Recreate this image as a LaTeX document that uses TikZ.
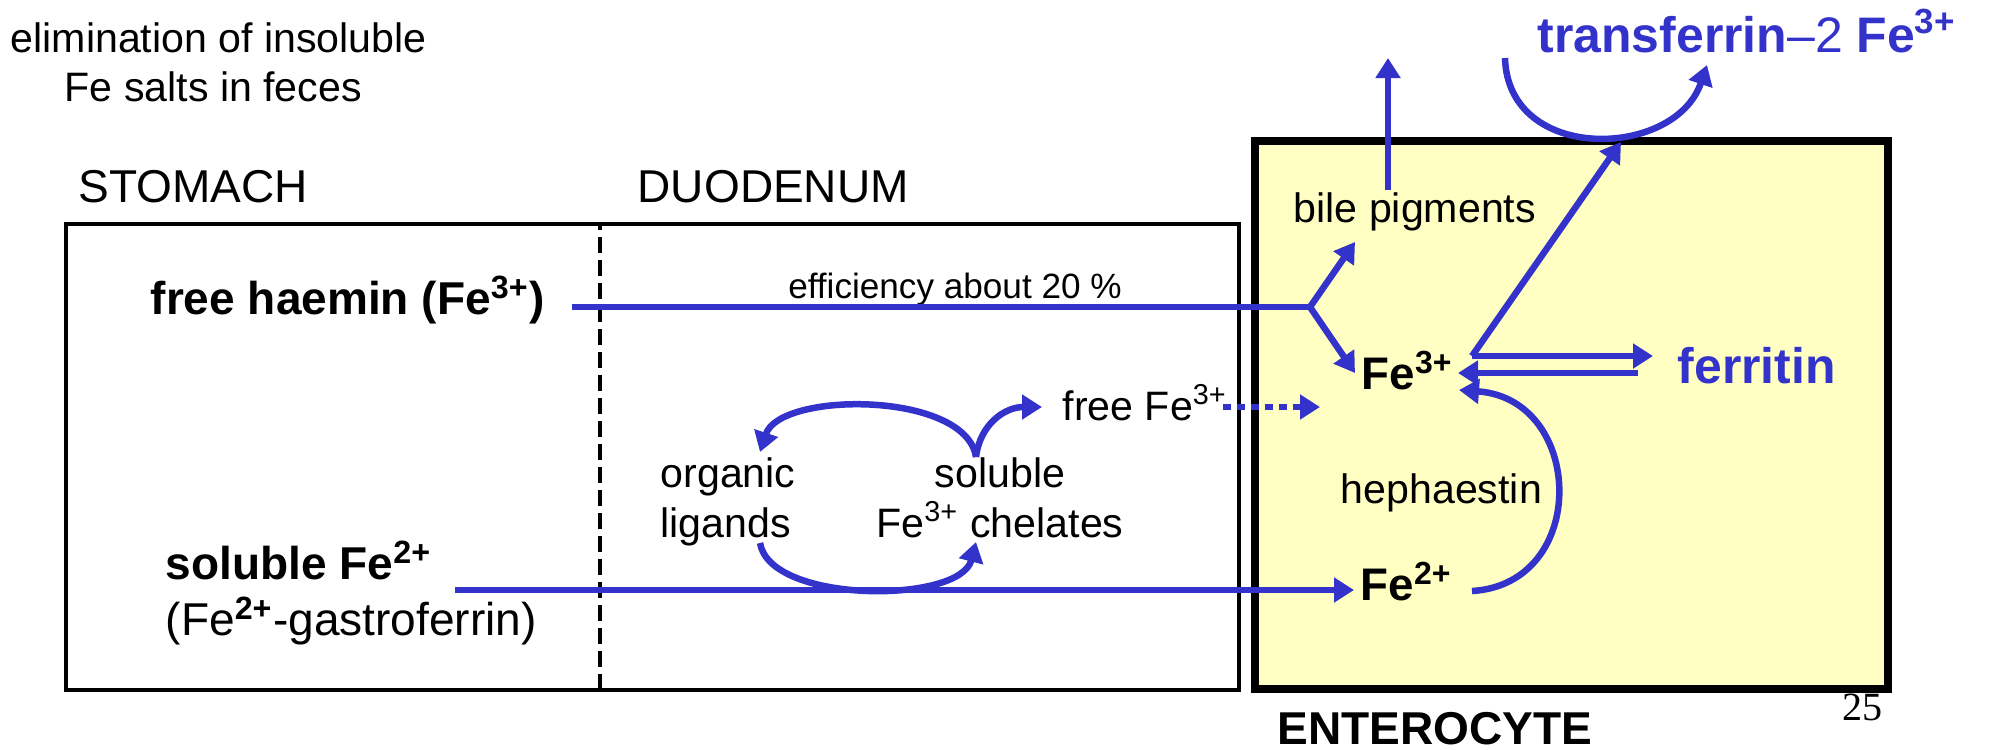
\documentclass[tikz,border=0pt]{standalone}
\usepackage{fontspec}
\setmainfont{Liberation Sans}
\newfontfamily\slidenumfont{Liberation Serif}
\usetikzlibrary{arrows.meta}
\definecolor{ironblue}{RGB}{51,51,204}
\definecolor{cellyellow}{RGB}{255,255,196}

\begin{document}
\begin{tikzpicture}[
  txt/.style={inner sep=0pt,anchor=base west,font=\fontsize{11.7pt}{14pt}\selectfont},
  ctxt/.style={txt,anchor=base},
  head/.style={txt,font=\fontsize{13.1pt}{15pt}\selectfont},
  bold/.style={txt,font=\fontsize{13.1pt}{15pt}\selectfont\bfseries},
  ion/.style={txt,font=\fontsize{13pt}{15pt}\selectfont\bfseries},
  blueword/.style={txt,text=ironblue,font=\fontsize{14.2pt}{16pt}\selectfont\bfseries},
  flow/.style={ironblue,line width=0.065cm,-{Triangle[length=0.2cm,width=0.24cm]}},
  bar/.style={ironblue,line width=0.065cm}
]
  \useasboundingbox (0,0) rectangle (20,7.49);

  % Stomach and duodenum
  \draw[line width=0.04cm] (0.66,0.59) rectangle (12.39,5.25);
  \draw[line width=0.035cm,dash pattern=on 0.16cm off 0.07cm] (6.00,0.59) -- (6.00,5.25);
  \node[head] (stomach) at (0.78,5.47) {STOMACH};
  \node[head] (duodenum) at (6.37,5.47) {DUODENUM};

  % Enterocyte
  \draw[line width=0.08cm,fill=cellyellow] (12.55,0.60) rectangle (18.88,6.08);
  \node[bold] (enterocyte) at (12.77,0.05) {ENTEROCYTE};
  \node[inner sep=0pt,anchor=base west,font=\slidenumfont\fontsize{11.4pt}{13pt}\selectfont] (slide) at (18.42,0.29) {25};

  % Labels
  \node[txt] (elim1) at (0.10,6.97) {elimination of insoluble};
  \node[txt] (elim2) at (0.64,6.48) {Fe salts in feces};
  \node[bold] (haemin) at (1.50,4.35) {free haemin (Fe\textsuperscript{3+})};
  \node[bold] (solfe) at (1.65,1.70) {soluble Fe\textsuperscript{2+}};
  \node[txt,font=\fontsize{13.1pt}{15pt}\selectfont] (gastro) at (1.65,1.14) {(Fe\textsuperscript{\bfseries 2+}-gastroferrin)};
  \node[ctxt,font=\fontsize{10pt}{12pt}\selectfont] (eff) at (9.55,4.51) {efficiency about 20 \%};
  \node[txt] (organic) at (6.60,2.62) {organic};
  \node[txt] (ligands) at (6.60,2.12) {ligands};
  \node[ctxt] (soluble) at (10.00,2.62) {soluble};
  \node[ctxt] (chelates) at (10.00,2.12) {Fe\textsuperscript{3+} chelates};
  \node[txt] (freefe) at (10.62,3.29) {free Fe\textsuperscript{3+}};
  \node[txt] (bile) at (12.93,5.27) {bile pigments};
  \node[ion] (fe3) at (13.61,3.60) {Fe\textsuperscript{3+}};
  \node[ion] (fe2) at (13.60,1.49) {Fe\textsuperscript{2+}};
  \node[txt] (heph) at (13.40,2.46) {hephaestin};
  \node[blueword] (ferritin) at (16.77,3.66) {ferritin};
  \node[blueword] (transferrin) at (15.37,6.97) {transferrin\mdseries--2 \bfseries Fe\textsuperscript{3+}};

  % Connector ends
  \coordinate (h0) at (5.72,4.42);
  \coordinate (fork) at (13.10,4.42);
  \coordinate (toBile) at (13.55,5.07);
  \coordinate (toFe3) at (13.55,3.76);
  \coordinate (bileTop) at (13.88,5.59);
  \coordinate (out) at (13.88,6.91);
  \coordinate (s0) at (4.55,1.59);
  \coordinate (s1) at (13.54,1.59);
  \coordinate (solTop) at (9.76,2.92);
  \coordinate (ligTop) at (7.60,2.97);
  \coordinate (ligBot) at (7.60,2.06);
  \coordinate (solBot) at (9.76,2.07);
  \coordinate (freeIn) at (10.42,3.42);
  \coordinate (freeOut) at (12.23,3.42);
  \coordinate (cellIn) at (13.20,3.42);
  \coordinate (f3out) at (14.72,3.93);
  \coordinate (ferOut) at (16.53,3.93);
  \coordinate (ferIn) at (16.38,3.76);
  \coordinate (f3in) at (14.58,3.76);
  \coordinate (membrane) at (16.21,6.07);
  \coordinate (tfStart) at (15.05,6.91);
  \coordinate (tfEnd) at (17.07,6.84);
  \coordinate (f2out) at (14.72,1.58);
  \coordinate (f3back) at (14.59,3.59);

  % Haemin route
  \draw[bar] (h0) -- (fork);
  \draw[flow] (fork) -- (toBile);
  \draw[flow] (fork) -- (toFe3);
  \draw[flow] (bileTop) -- (out);

  % Fe2+ route
  \draw[flow] (s0) -- (s1);
  \draw[flow] (ligBot) .. controls (7.70,1.45) and (9.60,1.45) .. (solBot);
  \draw[flow] (solTop) .. controls (9.66,3.58) and (7.80,3.58) .. (ligTop);
  \draw[flow] (solTop) .. controls (9.80,3.25) and (10.05,3.42) .. (freeIn);
  \draw[flow,dash pattern=on 0.08cm off 0.06cm] (freeOut) -- (cellIn);

  % Inside the cell
  \draw[flow] (f3out) -- (ferOut);
  \draw[flow] (ferIn) -- (f3in);
  \draw[flow] (f3out) -- (membrane);
  \draw[flow] (tfStart) .. controls (15.08,5.85) and (16.75,5.90) .. (tfEnd);
  \draw[flow] (f2out) .. controls (15.90,1.65) and (15.85,3.50) .. (f3back);
\end{tikzpicture}
\end{document}
